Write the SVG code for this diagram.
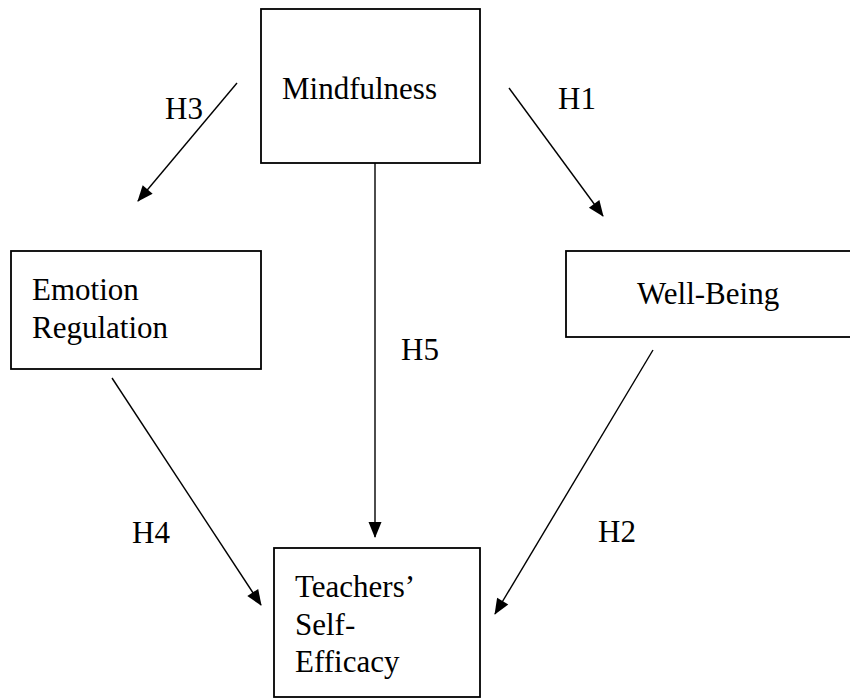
<svg xmlns="http://www.w3.org/2000/svg" width="850" height="698" viewBox="0 0 850 698">
<style>
.box{fill:#fff;stroke:#000;stroke-width:1.8}
text{font-family:'Liberation Serif','Times New Roman','DejaVu Serif',serif;font-size:31px;fill:#000}
.edge{stroke:#000;stroke-width:1.4;fill:none;marker-end:url(#ah)}
</style>
<defs>
<marker id="ah" markerUnits="userSpaceOnUse" markerWidth="16" markerHeight="14" refX="15" refY="6.5" orient="auto" overflow="visible">
<path d="M0,0 L16,6.5 L0,13 z" fill="#000"/>
</marker>
</defs>
<rect width="850" height="698" fill="#fff"/>
<g id="connectors">
<line class="edge" x1="237" y1="83" x2="138" y2="201"/>
<line class="edge" x1="509" y1="88" x2="603" y2="216"/>
<line class="edge" x1="375" y1="163" x2="375" y2="537"/>
<line class="edge" x1="112" y1="378" x2="261" y2="605"/>
<line class="edge" x1="653" y1="350" x2="495" y2="614"/>
<text x="165" y="119" font-family="Liberation Serif, serif">H3</text>
<text x="558" y="109" font-family="Liberation Serif, serif">H1</text>
<text x="401" y="360" font-family="Liberation Serif, serif">H5</text>
<text x="132" y="543" font-family="Liberation Serif, serif">H4</text>
<text x="598" y="542" font-family="Liberation Serif, serif">H2</text>
</g>
<g id="mindfulness">
<rect class="box" x="261" y="9" width="219" height="154"/>
<text x="282" y="99" font-family="Liberation Serif, serif">Mindfulness</text>
</g>
<g id="emotion-regulation">
<rect class="box" x="11" y="251" width="250" height="118"/>
<text x="32" y="300" font-family="Liberation Serif, serif">Emotion</text>
<text x="32" y="338" font-family="Liberation Serif, serif">Regulation</text>
</g>
<g id="well-being">
<rect class="box" x="566" y="251" width="290" height="86"/>
<text x="637" y="304" font-family="Liberation Serif, serif">Well-Being</text>
</g>
<g id="teachers-self-efficacy">
<rect class="box" x="274" y="548" width="206" height="149"/>
<text x="295" y="597" font-family="Liberation Serif, serif">Teachers’</text>
<text x="295" y="635" font-family="Liberation Serif, serif">Self-</text>
<text x="295" y="672" font-family="Liberation Serif, serif">Efficacy</text>
</g>
</svg>
